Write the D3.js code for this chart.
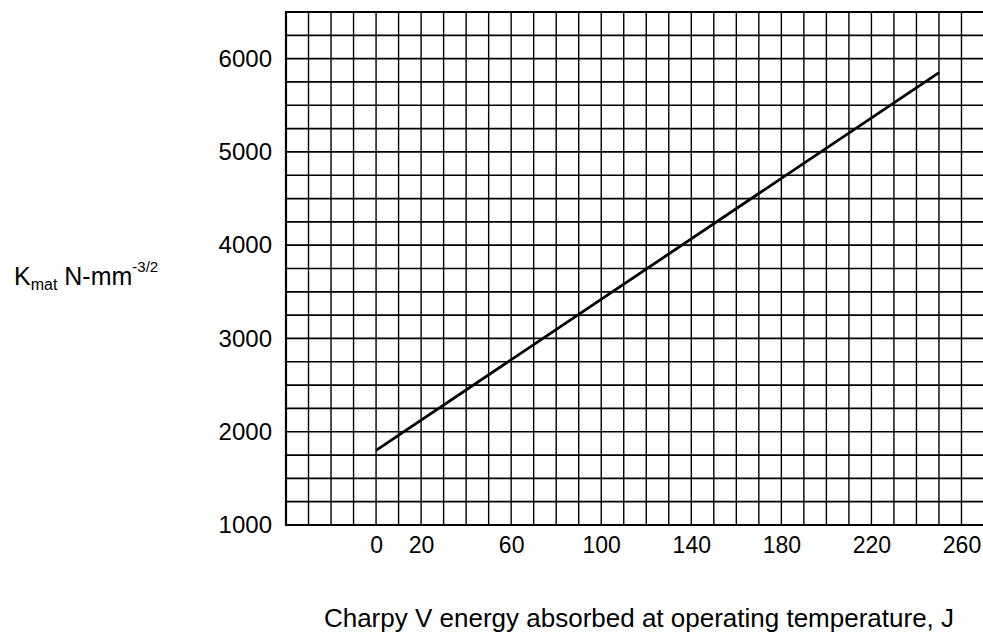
<!DOCTYPE html>
<html>
<head>
<meta charset="utf-8">
<script src="https://cdn.jsdelivr.net/npm/d3@7"></script>
<style>
  html, body { margin: 0; padding: 0; background: #fff; }
  svg { display: block; font-family: "Liberation Sans", Arial, sans-serif; }
</style>
</head>
<body>
<svg id="chart" width="983" height="640"></svg>
<script>
// Charpy V energy (J) against fracture toughness Kmat (N·mm^-3/2)
const xTickValues = [0, 20, 60, 100, 140, 180, 220, 260];
const yTickValues = [1000, 2000, 3000, 4000, 5000, 6000];
const lineEnergy = [0, 250];
const lineKmat = [1800, 5850];
const xDomain = [-40, 270];
const yDomain = [1000, 6500];
const xGridStep = 10;
const yGridStep = 250;

const svg = d3.select("#chart");
const plotLeft = 286, plotRight = 984, plotTop = 12, plotBottom = 525;

const x = d3.scaleLinear().domain(xDomain).range([plotLeft, plotRight]);
const y = d3.scaleLinear().domain(yDomain).range([plotBottom, plotTop]);

const plot = svg.append("g");

// graph-paper grid
const xGrid = d3.range(xDomain[0], xDomain[1] + 0.001, xGridStep);
const yGrid = d3.range(yDomain[0], yDomain[1] + 0.001, yGridStep);

plot.selectAll("line.v").data(xGrid).join("line")
  .attr("class", "v")
  .attr("x1", d => x(d)).attr("x2", d => x(d))
  .attr("y1", y(yDomain[0])).attr("y2", y(yDomain[1]))
  .attr("stroke", "#000").attr("stroke-width", 1.4);

plot.selectAll("line.h").data(yGrid).join("line")
  .attr("class", "h")
  .attr("x1", x(xDomain[0])).attr("x2", x(xDomain[1]))
  .attr("y1", d => y(d)).attr("y2", d => y(d))
  .attr("stroke", "#000").attr("stroke-width", 1.7);

// frame
plot.append("path")
  .attr("d", `M${x(xDomain[1])},${y(yDomain[1])}H${x(xDomain[0])}V${y(yDomain[0])}H${x(xDomain[1])}`)
  .attr("fill", "none").attr("stroke", "#000").attr("stroke-width", 2.2);

// axes: labels only, no domain path or tick marks
const yAxis = d3.axisLeft(y).tickValues(yTickValues).tickFormat(d3.format("d")).tickSize(0).tickPadding(0);
const gy = svg.append("g").attr("transform", `translate(${plotLeft - 14},0)`).call(yAxis);
gy.select(".domain").remove();
gy.selectAll("text").attr("font-size", 24).attr("font-family", "Liberation Sans, Arial, sans-serif").attr("fill", "#000");

const xAxis = d3.axisBottom(x).tickValues(xTickValues).tickFormat(d3.format("d")).tickSize(0).tickPadding(0);
const gx = svg.append("g").attr("transform", `translate(0,${plotBottom + 12})`).call(xAxis);
gx.select(".domain").remove();
gx.selectAll("text").attr("font-size", 23).attr("font-family", "Liberation Sans, Arial, sans-serif").attr("fill", "#000");

// correlation line
const lineData = lineEnergy.map((e, i) => [e, lineKmat[i]]);
plot.append("path")
  .datum(lineData)
  .attr("d", d3.line().x(d => x(d[0])).y(d => y(d[1])))
  .attr("fill", "none").attr("stroke", "#000").attr("stroke-width", 2.8);

// axis titles
svg.append("text")
  .attr("x", 639).attr("y", 627)
  .attr("text-anchor", "middle")
  .attr("font-size", 26)
  .text("Charpy V energy absorbed at operating temperature, J");

const yl = svg.append("text").attr("x", 14).attr("y", 285).attr("font-size", 25);
yl.append("tspan").text("K");
yl.append("tspan").attr("font-size", 16).attr("dy", 5).text("mat");
yl.append("tspan").attr("dy", -5).text(" N-mm");
yl.append("tspan").attr("font-size", 15).attr("dy", -13).text("-3/2");
</script>
</body>
</html>
